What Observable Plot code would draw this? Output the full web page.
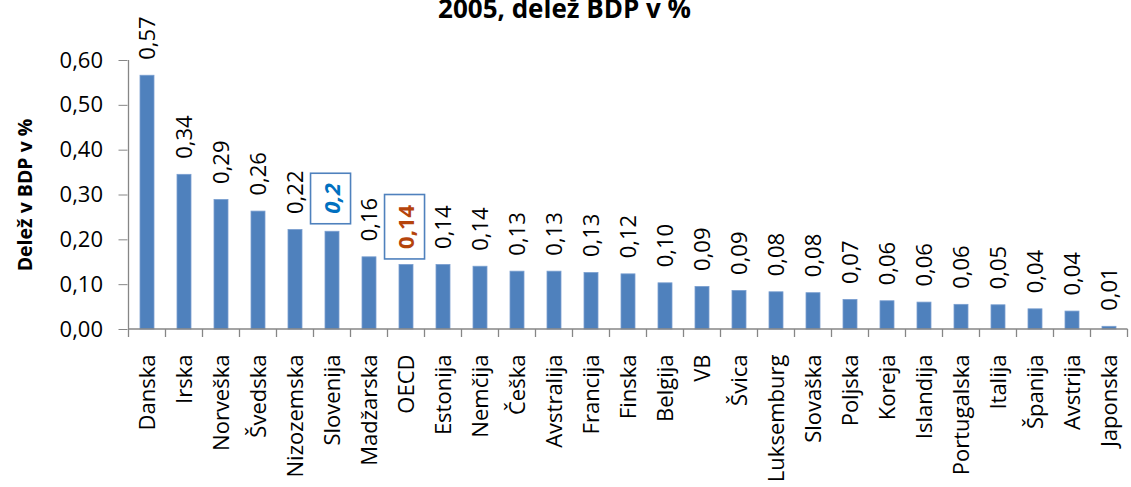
<!DOCTYPE html>
<html>
<head>
<meta charset="utf-8">
<script src="https://cdn.jsdelivr.net/npm/d3@7"></script>
<script src="https://cdn.jsdelivr.net/npm/@observablehq/plot@0.6"></script>
<style>
  html, body { margin: 0; padding: 0; background: #fff; }
  #chart svg { display: block; }
</style>
</head>
<body>
<div id="chart"></div>
<script>
const titleText = "2005, delež BDP v %";
const yTitle = "Delež v BDP v %";
const countries = ["Danska","Irska","Norveška","Švedska","Nizozemska","Slovenija","Madžarska","OECD","Estonija","Nemčija","Češka","Avstralija","Francija","Finska","Belgija","VB","Švica","Luksemburg","Slovaška","Poljska","Koreja","Islandija","Portugalska","Italija","Španija","Avstrija","Japonska"];
const values = [0.566,0.345,0.289,0.263,0.222,0.218,0.161,0.144,0.144,0.140,0.129,0.129,0.126,0.123,0.103,0.095,0.086,0.083,0.081,0.066,0.063,0.060,0.055,0.054,0.045,0.040,0.006];
const valueLabels = ["0,57","0,34","0,29","0,26","0,22","0,2","0,16","0,14","0,14","0,14","0,13","0,13","0,13","0,12","0,10","0,09","0,09","0,08","0,08","0,07","0,06","0,06","0,06","0,05","0,04","0,04","0,01"];
const yTicks = [0,0.1,0.2,0.3,0.4,0.5,0.6];
const highlightSlovenia = "Slovenija";
const highlightOECD = "OECD";

const data = countries.map((c, i) => ({country: c, value: values[i], label: valueLabels[i]}));
const normal = data.filter(d => d.country !== highlightSlovenia && d.country !== highlightOECD);
const slo = data.filter(d => d.country === highlightSlovenia);
const oecd = data.filter(d => d.country === highlightOECD);

const W = 1131, H = 487;
const mL = 127.5, mR = 2.4, mT = 60, mB = 158;
const font = "'Open Sans', sans-serif";
const axisColor = "#868686";
const fmt = d => d.toFixed(2).replace(".", ",");

const chart = Plot.plot({
  width: W, height: H,
  marginLeft: mL, marginRight: mR, marginTop: mT, marginBottom: mB,
  style: {fontFamily: font, fontSize: "22px", color: "#000", background: "#fff"},
  x: {domain: countries, paddingInner: 0.62, paddingOuter: 0.31, label: null},
  y: {domain: [0, 0.6], label: null},
  marks: [
    Plot.barY(data, {x: "country", y: "value", fill: "#4f81bd", stroke: "#7a9fd0", strokeWidth: 0.8}),
    Plot.axisY({ticks: yTicks, tickFormat: fmt, tickSize: 9, tickPadding: 16, fontSize: 22, stroke: axisColor, label: null}),
    Plot.axisX({tickSize: 0, tickRotate: -90, tickPadding: 25, fontSize: 22, label: null}),
    Plot.text(normal, {x: "country", y: "value", text: "label", rotate: -90, textAnchor: "start", dy: -16, fontSize: 22, fill: "#000"}),
    Plot.text(slo, {x: "country", y: "value", text: "label", rotate: -90, textAnchor: "start", dy: -18, fontSize: 22, fontWeight: "bold", fontStyle: "italic", fill: "#0070c0"}),
    Plot.text(oecd, {x: "country", y: "value", text: "label", rotate: -90, textAnchor: "start", dy: -16, fontSize: 22, fontWeight: "bold", fill: "#b5440c"}),
    Plot.text([yTitle], {frameAnchor: "left", textAnchor: "middle", rotate: -90, dx: -102, fontSize: 19.5, fontWeight: "bold", fill: "#000"}),
    Plot.text([titleText], {frameAnchor: "top", lineAnchor: "bottom", dx: 564 - (mL + (W - mR)) / 2, dy: 17 - mT, fontSize: 26, fontWeight: "bold", fill: "#000"})
  ]
});

document.getElementById("chart").appendChild(chart);

// Axis lines and category-boundary ticks, positioned through the plot's own scales
const xs = chart.scale("x");
const ysc = chart.scale("y");
const x0 = xs.apply(countries[0]);
const step = xs.apply(countries[1]) - x0;
const bw = xs.bandwidth;
const left = x0 - (step - bw) / 2;
const yBase = ysc.apply(0);
const yTop = ysc.apply(0.6);
const svg = d3.select(chart);
const g = svg.append("g").attr("stroke", axisColor).attr("stroke-width", 1.3).attr("fill", "none");
g.append("line").attr("x1", left).attr("x2", left).attr("y1", yTop).attr("y2", yBase);
g.append("line").attr("x1", left).attr("x2", left + step * countries.length).attr("y1", yBase).attr("y2", yBase);
for (let i = 0; i <= countries.length; i++) {
  const xx = left + i * step;
  g.append("line").attr("x1", xx).attr("x2", xx).attr("y1", yBase).attr("y2", yBase + 8);
}

// Boxes around highlighted labels
function boxAround(selector) {
  chart.querySelectorAll(selector).forEach(t => {
    const bb = t.getBBox();
    const cy = bb.y + bb.height / 2;
    const r = document.createElementNS("http://www.w3.org/2000/svg", "rect");
    r.setAttribute("x", bb.x - 10);
    r.setAttribute("width", bb.width + 20);
    r.setAttribute("y", cy - 20);
    r.setAttribute("height", 40);
    r.setAttribute("fill", "none");
    r.setAttribute("stroke", "#4f81bd");
    r.setAttribute("stroke-width", 1.6);
    if (t.getAttribute("transform")) r.setAttribute("transform", t.getAttribute("transform"));
    t.parentNode.insertBefore(r, t);
  });
}
boxAround('g[fill="#0070c0"] text');
boxAround('g[fill="#b5440c"] text');
</script>
</body>
</html>
